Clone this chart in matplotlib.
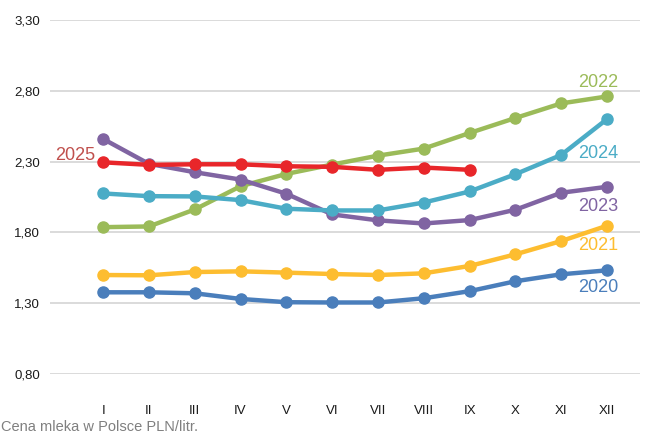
import numpy as np
import matplotlib
matplotlib.use("Agg")
import matplotlib.pyplot as plt
from matplotlib import font_manager

names = {f.name for f in font_manager.fontManager.ttflist}
fam = 'Liberation Sans Narrow' if 'Liberation Sans Narrow' in names else 'Liberation Sans'
plt.rcParams['font.family'] = [fam, 'DejaVu Sans']

months = ["I", "II", "III", "IV", "V", "VI", "VII", "VIII", "IX", "X", "XI", "XII"]
y2020 = [1.377, 1.377, 1.37, 1.33, 1.307, 1.305, 1.305, 1.335, 1.385, 1.455, 1.504, 1.532]
y2021 = [1.499, 1.497, 1.520, 1.525, 1.516, 1.506, 1.499, 1.511, 1.563, 1.645, 1.739, 1.847]
y2022 = [1.837, 1.842, 1.962, 2.126, 2.213, 2.279, 2.342, 2.392, 2.502, 2.608, 2.711, 2.760]
y2023 = [2.46, 2.284, 2.225, 2.173, 2.073, 1.927, 1.885, 1.863, 1.887, 1.960, 2.080, 2.122]
y2024 = [2.075, 2.056, 2.054, 2.028, 1.967, 1.955, 1.955, 2.011, 2.089, 2.211, 2.347, 2.600]
y2025 = [2.295, 2.277, 2.281, 2.281, 2.267, 2.263, 2.242, 2.258, 2.242]
yticks = [0.80, 1.30, 1.80, 2.30, 2.80, 3.30]

fig = plt.figure(figsize=(6.46, 4.44), dpi=100)
ax = fig.add_axes([50/646, 1-374/444, 590/646, 354/444])

series = [
    (y2020, "#4a7ebb"),
    (y2021, "#fdbd30"),
    (y2022, "#9bbb59"),
    (y2023, "#8064a2"),
    (y2024, "#4bacc6"),
    (y2025, "#e8262a"),
]
for vals, col in series:
    x = np.arange(len(vals))
    ax.plot(x, vals, color=col, lw=3.2, marker='o', ms=8, clip_on=False, zorder=3)

# year labels
lab = dict(fontsize=13, ha='center', va='center')
ax.text(10.8, 2.86, "2022", color="#9bbb59", **lab)
ax.text(10.8, 2.36, "2024", color="#4bacc6", **lab)
ax.text(10.8, 1.98, "2023", color="#8064a2", **lab)
ax.text(10.8, 1.71, "2021", color="#fdbd30", **lab)
ax.text(10.8, 1.41, "2020", color="#4a7ebb", **lab)
ax.text(-0.62, 2.345, "2025", color="#c0504d", **lab)

ax.set_xlim(-1.16, 11.72)
ax.set_ylim(0.8, 3.3)
ax.set_yticks(yticks)
ax.set_yticklabels([f"{v:.2f}".replace('.', ',') for v in yticks], fontsize=9.5, color='#1a1a1a')
ax.set_xticks(np.arange(12))
ax.set_xticklabels(months, fontsize=9.5, color='#1a1a1a')
ax.tick_params(axis='x', length=0, pad=22)
ax.tick_params(axis='y', length=0, pad=7)
ax.grid(axis='y', color='#d4d4d4', lw=1.2)
ax.set_axisbelow(True)
for s in ax.spines.values():
    s.set_visible(False)

fig.text(0.002, 1-427/444, "Cena mleka w Polsce PLN/litr.", color="#7f7f7f", fontsize=10.5, va='center', ha='left')

fig.savefig("out.png", dpi=100)
